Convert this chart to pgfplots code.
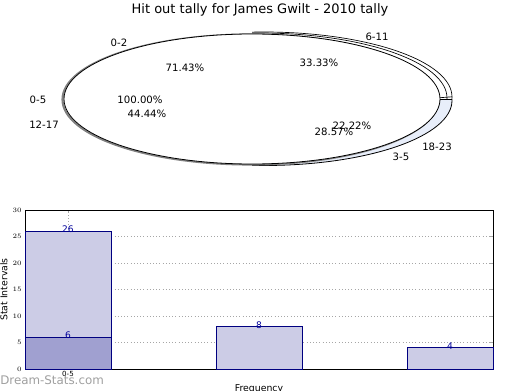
\documentclass[border=0pt]{standalone}
\usepackage{pgfplots}
\pgfplotsset{compat=1.18}
\usepackage{fontspec}
\setmainfont{DejaVu Sans}
\definecolor{barlight}{RGB}{204,204,230}
\definecolor{bardark}{RGB}{160,160,208}
\definecolor{navy}{RGB}{0,0,128}
\definecolor{pieblue}{RGB}{232,238,250}
\begin{document}
\begin{tikzpicture}
\useasboundingbox (0,0) rectangle (390pt,292.5pt);
% ---------- pie part (coordinates in pixels, y up) ----------
\begin{axis}[at={(0,0)}, anchor=south west, scale only axis,
  width=390pt, height=292.5pt, xmin=0, xmax=520, ymin=0, ymax=390,
  hide axis, clip=false]
  % upper right thin slices
  \begin{scope}
    \clip (252,291.5) rectangle (480,380);
    \filldraw[fill=white, draw=black, line width=0.5pt] (264,293) ellipse [x radius=188, y radius=65];
    \draw[black, line width=0.5pt] (259,292) ellipse [x radius=188, y radius=65];
  \end{scope}
  % lower right band
  \begin{scope}
    \clip (252,200) rectangle (480,291);
    \filldraw[fill=pieblue, draw=black, line width=0.6pt] (264,289.5) ellipse [x radius=188, y radius=65];
  \end{scope}
  \draw[black, line width=0.6pt] (440,291) -- (452,291);
  \draw[black, line width=0.5pt] (440,292.3) -- (452,293.2);
  % shadow and main ellipse
  \draw[gray, line width=1.6pt] (250.5,290.5) ellipse [x radius=188, y radius=65];
  \filldraw[fill=white, draw=black, line width=0.6pt] (252,291) ellipse [x radius=188, y radius=65];
  % title
  \node[font=\fontsize{9.75}{11}\selectfont] at (260,380) {Hit out tally for James Gwilt - 2010 tally};
  % labels
  \begin{scope}[every node/.style={font=\fontsize{7.6}{9}\selectfont, inner sep=0pt}]
    \node at (119,347) {0-2};
    \node at (377,353) {6-11};
    \node at (185,322) {71.43\%};
    \node at (319,327) {33.33\%};
    \node at (38,290) {0-5};
    \node at (140,290) {100.00\%};
    \node at (147,276) {44.44\%};
    \node at (44,265) {12-17};
    \node at (352,264) {22.22\%};
    \node at (334,258) {28.57\%};
    \node at (437,243) {18-23};
    \node at (401,233) {3-5};
  \end{scope}
  \node[font=\fontsize{8.9}{10}\selectfont, text=gray!75, inner sep=0pt, anchor=west] at (0,10) {Dream-Stats.com};
\end{axis}
% ---------- bar part ----------
\begin{axis}[at={(18.75pt,15.75pt)}, anchor=south west, scale only axis,
  width=351pt, height=119.25pt,
  xmin=-0.225, xmax=2.225, ymin=0, ymax=30,
  ytick={0,5,...,30}, xtick={0}, xticklabels={0-5},
  ymajorgrids, xmajorgrids,
  grid style={dotted, gray!70, line width=0.7pt},
  tick label style={font=\fontsize{5.3}{6}\selectfont},
  yticklabel style={xshift=1pt},
  xticklabel style={yshift=1.5pt},
  major tick length=2pt,
  tick style={gray!70},
  axis line style={black, line width=0.6pt},
  ylabel={Stat Intervals}, xlabel={Frequency},
  label style={font=\fontsize{7}{8}\selectfont},
  ylabel style={yshift=-3pt},
  xlabel style={yshift=1pt},
  clip=false]
  \addplot[ybar, bar width=0.45, bar shift=0pt, fill=barlight, draw=navy, line width=0.5pt]
    coordinates {(0,26) (1,8) (2,4)};
  \addplot[ybar, bar width=0.45, bar shift=0pt, fill=bardark, draw=navy, line width=0.5pt]
    coordinates {(0,6)};
  \begin{scope}[every node/.style={font=\fontsize{6.8}{8}\selectfont, text=navy!80!blue, inner sep=0pt, yshift=1.2pt}]
    \node at (0,26) {26};
    \node at (0,6) {6};
    \node at (1,8) {8};
    \node at (2,4) {4};
  \end{scope}
\end{axis}
\end{tikzpicture}
\end{document}
